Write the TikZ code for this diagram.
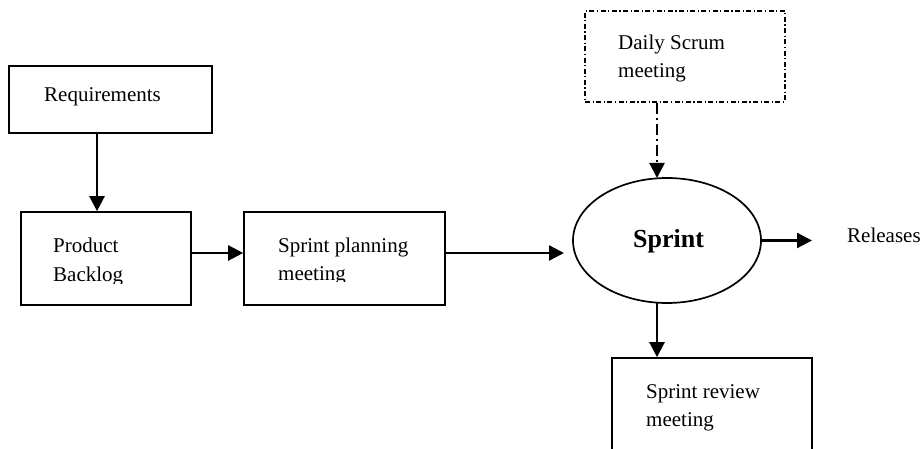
\documentclass[tikz,border=0pt]{standalone}
\usepackage{fontspec}
\setmainfont{Liberation Serif}
\usetikzlibrary{arrows.meta,shapes.geometric}
\begin{document}
\begin{tikzpicture}[x=1pt,y=-1pt,
  box/.style={draw,line width=1.6pt,rectangle,inner sep=0pt},
  dashbox/.style={draw,line width=1.1pt,rectangle,inner sep=0pt,
    dash pattern=on 5pt off 2.5pt on 1.2pt off 2.5pt},
  oval/.style={draw,line width=1.7pt,ellipse,inner sep=0pt},
  lbl/.style={anchor=base west,inner sep=0pt,font=\fontsize{21}{28}\selectfont},
  flow/.style={line width=2.3pt,-{Triangle[length=15pt,width=15pt]}},
  dashflow/.style={flow,dash pattern=on 11pt off 4pt on 2pt off 4pt}]
\useasboundingbox (0,0) rectangle (924,449);

% boxes
\node[box,minimum width=203pt,minimum height=67pt] (req) at (110.5,99.5) {};
\node[box,minimum width=170pt,minimum height=93pt] (backlog) at (106,258.5) {};
\node[box,minimum width=201pt,minimum height=93pt] (plan) at (344.5,258.5) {};
\node[dashbox,minimum width=200pt,minimum height=91pt] (daily) at (685,56.5) {};
\node[box,minimum width=200pt,minimum height=112pt] (review) at (712,414) {};
\node[oval,minimum width=188pt,minimum height=125pt] (sprint) at (667,240.5) {};

% labels
\node[lbl] (reqtxt) at (44,102) {Requirements};
\begin{scope}
  \clip (22,213) rectangle (190,283);
  \node[lbl] (bl1) at (53,253) {Product};
  \node[lbl] (bl2) at (53,281) {Backlog};
\end{scope}
\begin{scope}
  \clip (245,213) rectangle (444,281.5);
  \node[lbl] (pl1) at (278,253) {Sprint planning};
  \node[lbl] (pl2) at (278,280) {meeting};
\end{scope}
\node[lbl] (dl1) at (618,50) {Daily Scrum};
\node[lbl] (dl2) at (618,78) {meeting};
\node[lbl] (rv1) at (646,398) {Sprint review};
\node[lbl] (rv2) at (646,426) {meeting};
\node[lbl,font=\fontsize{26}{30}\selectfont\bfseries] (sptxt) at (633,248) {Sprint};
\node[lbl] (rel) at (847,243) {Releases};

% connector ends
\coordinate (colx) at (657,0);
\coordinate (inend) at (564,253);
\coordinate (outend) at (812,240.5);

% connectors
\draw[flow] (req.south -| 97,0) -- (backlog.north -| 97,0);
\draw[flow] (backlog.east |- 0,253) -- (plan.west |- 0,253);
\draw[flow] (plan.east |- inend) -- (inend);
\draw[dashflow] (daily.south -| colx) -- (657,178);
\draw[flow] (sprint.east) -- (outend);
\draw[flow] (657,303) -- (review.north -| colx);
\end{tikzpicture}
\end{document}
